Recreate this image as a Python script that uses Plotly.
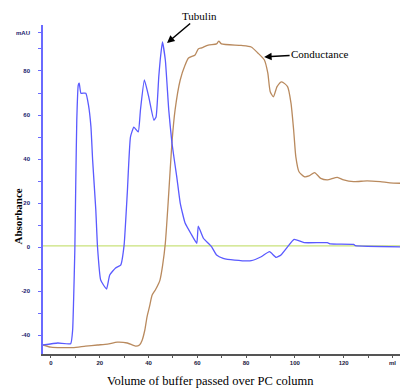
import plotly.graph_objects as go

# Tubulin absorbance (mAU) vs volume (ml)
abs_x = [-3.25, 2.8, 8.1, 8.9, 9.3, 9.8, 10.2, 10.6, 11.2, 11.6, 12.3, 14.3, 15.4, 16.4, 17.1,
         18.4, 19.1, 20.4, 22.8, 24.1, 26.5, 28.6, 30.0, 31.3, 32.6, 34.0, 35.8, 36.7, 38.3,
         40.1, 42.2, 43.1, 44.2, 44.8, 45.7, 46.9, 48.3, 49.6, 51.6, 53.0, 55.0, 57.7, 59.8,
         60.4, 62.5, 64.5, 65.9, 67.9, 70.6, 75.3, 82.1, 86.2, 89.6, 92.3, 94.3, 97.0, 99.7,
         103.8, 113.3, 114.6, 124.1, 124.8, 143.1]
abs_y = [-44.5, -43.6, -43.9, -37.7, -24.1, -1.4, 30.5, 57.7, 73.6, 74.5, 69.9, 69.9, 64.5, 54.7, 39.5,
         16.8, 0.0, -15.0, -19.1, -12.7, -9.5, -8.2, 0.9, 24.5, 50.0, 54.5, 52.3, 62.3, 75.9,
         68.2, 57.7, 59.1, 77.3, 85.0, 93.2, 85.0, 62.3, 47.3, 31.8, 20.0, 10.9, 5.5, 1.7,
         9.5, 4.0, 1.7, 0.1, -3.6, -5.1, -5.9, -6.2, -4.4, -2.1, -4.7, -3.6, 0.1, 3.5,
         2.0, 2.0, 1.4, 1.2, 0.6, 0.1]

# Conductance trace (plotted on same scale)
cond_x = [-3.25, 0.0, 8.9, 14.2, 19.1, 23.2, 27.2, 31.3, 34.7, 36.3, 37.4, 38.5, 39.4, 40.4, 41.5,
          42.8, 44.2, 44.7, 45.8, 46.9, 48.3, 49.6, 50.9, 53.0, 55.0, 56.4, 59.1, 60.4, 61.8,
          64.5, 67.9, 68.8, 69.9, 78.0, 82.1, 84.8, 87.5, 88.9, 89.9, 91.2, 92.7, 94.6, 97.0,
          98.4, 99.5, 100.4, 101.7, 103.8, 105.8, 108.1, 110.6, 113.3, 117.4, 120.0, 124.1,
          129.6, 135.0, 139.0, 143.1]
cond_y = [-44.5, -45.5, -45.7, -45.0, -44.5, -44.1, -43.2, -43.6, -45.0, -44.5, -42.3, -37.7, -31.7, -27.1, -21.8,
          -19.5, -16.5, -15.0, -8.2, 1.8, 24.5, 47.3, 62.3, 75.9, 82.7, 85.9, 87.3, 90.0, 90.5,
          91.8, 92.3, 93.6, 92.3, 91.6, 90.9, 88.2, 85.0, 79.1, 70.6, 68.3, 72.9, 75.1, 72.9,
          65.5, 53.2, 41.0, 34.2, 32.0, 32.3, 33.8, 31.2, 30.5, 31.7, 30.5, 29.7,
          30.1, 29.7, 29.2, 29.0]

baseline_x = [-3.25, 143.1]
baseline_y = [0.5, 0.5]

x_tickvals = [0, 10, 20, 30, 40, 50, 60, 70, 80, 90, 100, 110, 120, 130, 140]
x_ticktext = ["0", "", "20", "", "40", "", "60", "", "80", "", "100", "", "120", "", "ml"]
y_tickvals = [-40, -30, -20, -10, 0, 10, 20, 30, 40, 50, 60, 70, 80, 90, 97.5]
y_ticktext = ["-40", "", "-20", "", "0", "", "20", "", "40", "", "60", "", "80", "", "mAU"]

fig = go.Figure()
fig.add_trace(go.Scatter(x=baseline_x, y=baseline_y, mode="lines",
                         line=dict(color="#c9e27a", width=1.3), hoverinfo="skip"))
fig.add_trace(go.Scatter(x=cond_x, y=cond_y, mode="lines",
                         line=dict(color="#b98a5e", width=1.3, shape="spline", smoothing=0.6)))
fig.add_trace(go.Scatter(x=abs_x, y=abs_y, mode="lines",
                         line=dict(color="#5a5aff", width=1.3, shape="spline", smoothing=0.4)))

fig.update_layout(
    width=400, height=383,
    margin=dict(l=32, r=8, t=17, b=37),
    paper_bgcolor="white", plot_bgcolor="white",
    showlegend=False,
    xaxis=dict(range=[-3.25, 143.1], showgrid=False, zeroline=False,
               showline=True, linecolor="#555555", linewidth=1.5,
               ticks="outside", ticklen=2, tickcolor="#555555",
               tickvals=x_tickvals, ticktext=x_ticktext,
               tickfont=dict(family="Liberation Sans", size=6, color="#1a1a40", weight="bold")),
    yaxis=dict(range=[-48.6, 100.9], showgrid=False, zeroline=False,
               showline=True, linecolor="#6a6aff", linewidth=1.5,
               ticks="outside", ticklen=3, tickcolor="#6a6aff",
               ticklabelstandoff=7,
               tickvals=y_tickvals, ticktext=y_ticktext,
               tickfont=dict(family="Liberation Sans", size=6, color="#1a1a6e", weight="bold")),
    annotations=[
        dict(text="Absorbance", xref="paper", yref="paper", x=-0.069, y=0.419,
             xanchor="center", yanchor="middle",
             textangle=-90, showarrow=False,
             font=dict(family="Liberation Serif", size=11, color="black", weight="bold")),
        dict(text="Volume of buffer passed over PC column", xref="paper", yref="paper",
             x=0.469, y=-0.082, xanchor="center", yanchor="middle", showarrow=False,
             font=dict(family="Liberation Serif", size=12.5, color="black")),
        dict(text="Tubulin", x=47.6, y=92.7, xref="x", yref="y", ax=32, ay=-27,
             showarrow=True, arrowhead=2, arrowsize=1, arrowwidth=1.5, arrowcolor="black",
             font=dict(family="Liberation Serif", size=11, color="black")),
        dict(text="Conductance", x=87.4, y=86.4, xref="x", yref="y", ax=56, ay=-3,
             showarrow=True, arrowhead=2, arrowsize=1, arrowwidth=1.5, arrowcolor="black",
             font=dict(family="Liberation Serif", size=11, color="black")),
    ],
)

fig.write_html("out.html")
